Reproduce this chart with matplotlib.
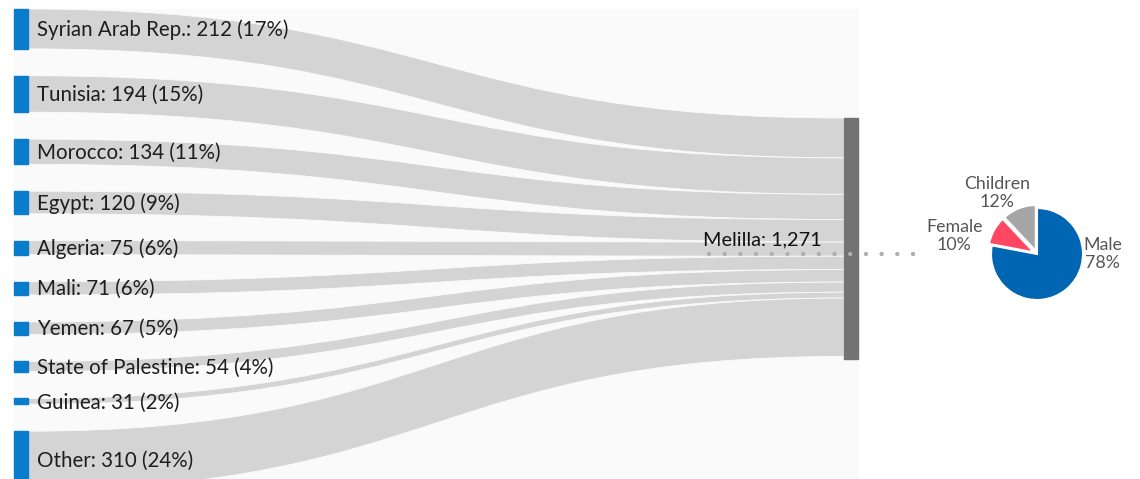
import matplotlib.pyplot as plt
from matplotlib.patches import Rectangle, PathPatch
from matplotlib.path import Path

plt.rcParams['font.family'] = ['Lato', 'DejaVu Sans']

# Data
countries = ['Syrian Arab Rep.', 'Tunisia', 'Morocco', 'Egypt', 'Algeria', 'Mali',
             'Yemen', 'State of Palestine', 'Guinea', 'Other']
arrivals = [212, 194, 134, 120, 75, 71, 67, 54, 31, 310]
shares = [17, 15, 11, 9, 6, 6, 5, 4, 2, 24]
target = 'Melilla'
target_total = 1271
groups = ['Male', 'Female', 'Children']
group_shares = [78, 10, 12]

# Layout (pixel units of the figure)
W, H = 1140, 479
scale = 0.188           # px per person
gap = 26.9              # px between left nodes
left_x, node_w = 14, 14
right_x = 844
top_left = 9
top_right = 118
flow_col = '#d4d4d4'
bg_col = '#fafafa'
blue = '#0a7ccc'

fig = plt.figure(figsize=(W / 100, H / 100), dpi=100)
ax = fig.add_axes([0, 0, 1, 1])
ax.set_xlim(0, W)
ax.set_ylim(H, 0)
ax.axis('off')

ax.add_patch(Rectangle((left_x, top_left), right_x + node_w - left_x, H, color=bg_col, zorder=0))

# node positions
heights = [v * scale for v in arrivals]
y0_left = []
y = top_left
for h in heights:
    y0_left.append(y)
    y += h + gap
y0_right = []
y = top_right
for h in heights:
    y0_right.append(y)
    y += h

x_a = left_x + node_w
x_b = right_x
xm = (x_a + x_b) / 2
for i, h in enumerate(heights):
    ya, yb = y0_left[i], y0_right[i]
    verts = [(x_a, ya), (xm, ya), (xm, yb), (x_b, yb),
             (x_b, yb + h), (xm, yb + h), (xm, ya + h), (x_a, ya + h), (x_a, ya)]
    codes = [Path.MOVETO, Path.CURVE4, Path.CURVE4, Path.CURVE4,
             Path.LINETO, Path.CURVE4, Path.CURVE4, Path.CURVE4, Path.CLOSEPOLY]
    ax.add_patch(PathPatch(Path(verts, codes), facecolor=flow_col,
                           edgecolor=bg_col, linewidth=0.6, zorder=1))
    ax.add_patch(Rectangle((left_x, ya), node_w, h, color=blue, zorder=2))
    ax.text(37, ya + h / 2 + 1, f'{countries[i]}: {arrivals[i]} ({shares[i]}%)',
            ha='left', va='center', fontsize=14.8, color='#1e1e1e', zorder=3)

# target node
t_h = target_total * scale
ax.add_patch(Rectangle((right_x, top_right), node_w, t_h + 2, color='#737373', zorder=2))
ax.text(822, 240, f'{target}: {target_total:,}', ha='right', va='center',
        fontsize=14.3, color='#111111', zorder=3)

# dotted connector
ax.plot([709, 916], [254, 254], color='#b5acb1', lw=3.2,
        linestyle=(0, (0.001, 3.53)), dash_capstyle='round', zorder=4)

# pie
cx, cy, r = 1037, 254, 46
pax = fig.add_axes([(cx - r) / W, (H - cy - r) / H, 2 * r / W, 2 * r / H])
pie_cols = ['#0066b3', '#ff4762', '#a6a6a6']
pax.pie(group_shares, colors=pie_cols, startangle=90, counterclock=False,
        explode=[0, 0.07, 0.07],
        wedgeprops=dict(edgecolor='white', linewidth=1.5))
pax.set_xlim(-1, 1)
pax.set_ylim(-1, 1)
pax.set_aspect('equal')
pax.axis('off')

label_pos = {'Male': (1.43, 0.0), 'Female': (-1.8, 0.39), 'Children': (-0.87, 1.33)}
for g, s in zip(groups, group_shares):
    lx, ly = label_pos[g]
    pax.text(lx, ly, f'{g}\n{s}%', ha='center', va='center', fontsize=12.8,
             color='#555555', linespacing=1.15, clip_on=False)

fig.savefig('out.png', dpi=100)
